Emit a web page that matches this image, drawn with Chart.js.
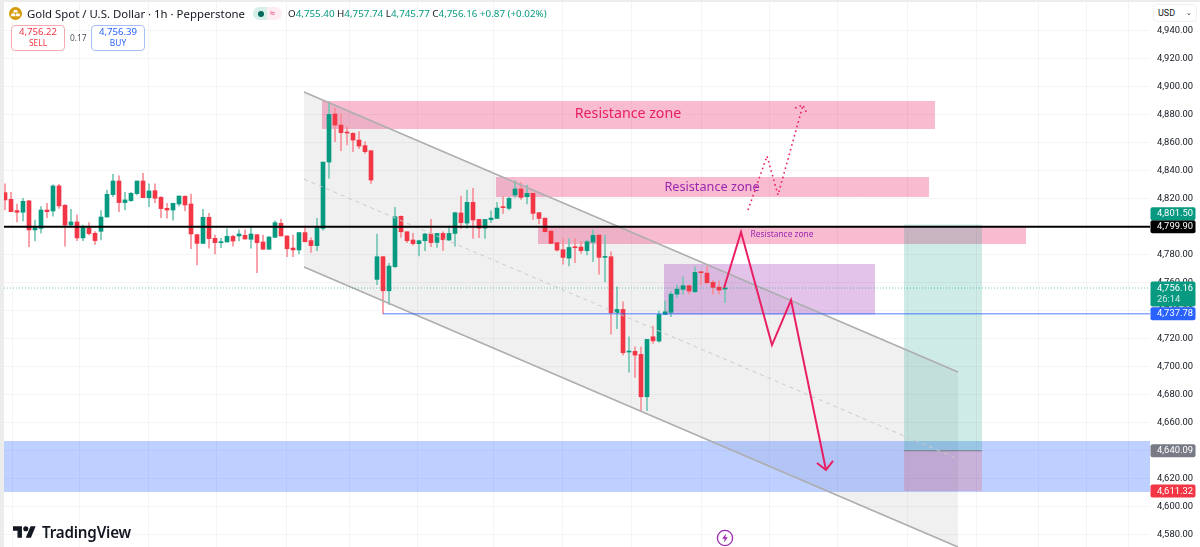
<!DOCTYPE html>
<html>
<head>
<meta charset="utf-8">
<title>Gold Spot / U.S. Dollar</title>
<script src="https://cdn.jsdelivr.net/npm/chart.js@4"></script>
<style>
    html, body { margin: 0; padding: 0; background: #fff; overflow: hidden; }
    body { width: 1200px; height: 547px; position: relative; font-family: "Noto Sans", sans-serif; color: #131722; }
    canvas { position: absolute; left: 0; top: 0; }
    .abs { position: absolute; white-space: nowrap; }
    .edge-left { left: 0; top: 0; width: 4px; height: 547px; background: #ececec; }
    .edge-top { left: 0; top: 0; width: 1200px; height: 2px; background: #ececec; }
    .title { left: 27px; top: 5px; font-size: 11.4px; line-height: 18px; }
    .ohlc { left: 288px; top: 6px; font-size: 9.8px; line-height: 16px; }
    .ohlc b { font-weight: 400; color: #089981; }
    .pill { left: 253px; top: 7px; width: 29px; height: 13px; border-radius: 7px; background: linear-gradient(90deg, #d7efe9 0 50%, #fdecf1 50% 100%); }
    .pill i { position: absolute; left: 5px; top: 3.5px; width: 6px; height: 6px; border-radius: 50%; background: #00695c; }
    .pill u { position: absolute; left: 17px; top: 0; font-size: 9px; line-height: 12px; color: #e91e63; text-decoration: none; }
    .trade { top: 25px; width: 52px; height: 24px; border: 1px solid; border-radius: 4px; text-align: center; font-size: 9.6px; line-height: 12px; background: #fff; }
    .trade span { display: block; font-size: 8.4px; line-height: 10px; }
    .sell { left: 11px; color: #f23645; border-color: #f7a9b0; }
    .buy { left: 91px; color: #2962ff; border-color: #a9bffb; }
    .spread { left: 70px; top: 32px; font-size: 8.4px; line-height: 12px; color: #50535e; }
    .usd { left: 1153px; top: 4px; width: 44px; height: 18px; box-sizing: border-box; padding-left: 4px; border: 1px solid #f0f0f1; border-radius: 4px; font: 9px/16px Roboto, sans-serif; background: #fff; }
    .usd span { position: absolute; right: 4px; top: 0; font-size: 7px; }
    .brand { left: 42px; top: 521px; font-size: 15.2px; line-height: 22px; font-weight: 600; letter-spacing: -0.2px; }
</style>
</head>
<body>
<canvas id="goldChart" width="1200" height="547"></canvas>
<div class="abs edge-left"></div>
<div class="abs edge-top"></div>
<svg class="abs" style="left:9px;top:7px" width="13" height="13" viewBox="0 0 13 13">
    <circle cx="6.5" cy="6.5" r="6.5" fill="#d79a0a"/>
    <path d="M5 3h3l1 2.6H4zM2.4 6.6h3.6l.4 2.6H2zM7 6.6h3.6l.4 2.6H6.6z" fill="#fff"/>
</svg>
<div class="abs title">Gold Spot / U.S. Dollar · 1h · Pepperstone</div>
<div class="abs pill"><i></i><u>≈</u></div>
<div class="abs ohlc">O<b>4,755.40</b> H<b>4,757.74</b> L<b>4,745.77</b> C<b>4,756.16</b> <b>+0.87 (+0.02%)</b></div>
<div class="abs trade sell">4,756.22<span>SELL</span></div>
<div class="abs spread">0.17</div>
<div class="abs trade buy">4,756.39<span>BUY</span></div>
<div class="abs usd">USD<span>⌄</span></div>
<svg class="abs" style="left:13px;top:525px" width="23" height="14" viewBox="0 4 36 18">
    <path d="M14 22H7V11H0V4h14v18zM28 22h-8l7.5-18h8L28 22z" fill="#131722"/>
    <circle cx="20" cy="8" r="4" fill="#131722"/>
</svg>
<div class="abs brand">TradingView</div>
<svg class="abs" style="left:716px;top:529px" width="18" height="18" viewBox="0 0 18 18">
    <circle cx="9" cy="9" r="7.6" fill="#fff" stroke="#9c27b0" stroke-width="1.3"/>
    <path d="M10 4.5 6.2 9.8h2.5L8 13.5l3.8-5.3H9.3z" fill="#9c27b0"/>
</svg>
<script>
// Candles, oldest first
const opens = [
    4824.2, 4819.4, 4811.4, 4810.2, 4818.3, 4797.6, 4798.7, 4811.8, 4811.1, 4829.0,
    4815.2, 4801.1, 4803.3, 4791.9, 4799.0, 4795.2, 4796.6, 4806.8, 4822.8, 4832.5,
    4817.1, 4818.5, 4823.5, 4832.5, 4820.6, 4825.6, 4820.9, 4813.0, 4811.8, 4816.1,
    4821.6, 4816.1, 4794.2, 4788.0, 4806.6, 4791.6, 4788.5, 4789.0, 4793.0, 4793.3,
    4793.8, 4790.9, 4794.2, 4789.0, 4783.8, 4792.3, 4802.3, 4793.3, 4784.7, 4783.3,
    4795.7, 4790.0, 4786.4, 4798.7, 4846.0, 4880.3, 4872.4, 4867.2, 4866.5, 4861.7,
    4857.7, 4854.1, 4762.3, 4778.5, 4754.2, 4771.4, 4807.3, 4796.3, 4790.4, 4787.8,
    4789.9, 4794.7, 4788.7, 4795.1, 4790.4, 4795.1, 4809.7, 4802.5, 4817.3, 4805.1,
    4798.9, 4804.9, 4805.8, 4814.2, 4813.0, 4822.5, 4826.8, 4821.3, 4823.7, 4809.9,
    4806.0, 4796.8, 4788.5, 4783.5, 4777.5, 4785.6, 4785.4, 4782.8, 4788.9, 4793.9,
    4778.0, 4778.5, 4738.5, 4740.9, 4710.5, 4711.0, 4708.8, 4678.6, 4721.4, 4718.3,
    4737.3, 4738.8, 4751.8, 4755.2, 4757.8, 4753.5, 4767.3, 4766.8, 4760.2, 4756.8,
    4755.40
];
const highs = [
    4830.4, 4824.4, 4816.1, 4820.2, 4818.7, 4804.7, 4814.2, 4816.6, 4829.7, 4830.1,
    4815.6, 4812.3, 4808.3, 4801.1, 4802.8, 4796.4, 4811.4, 4826.1, 4837.3, 4836.1,
    4824.4, 4824.4, 4832.5, 4838.0, 4830.4, 4830.4, 4821.3, 4816.6, 4816.6, 4821.8,
    4822.0, 4823.2, 4794.7, 4812.3, 4809.5, 4794.0, 4791.6, 4798.3, 4794.0, 4797.6,
    4797.6, 4800.4, 4794.2, 4794.0, 4792.6, 4804.0, 4805.4, 4793.3, 4794.0, 4795.7,
    4800.4, 4791.9, 4805.9, 4846.0, 4889.0, 4884.3, 4880.3, 4871.2, 4867.0, 4867.7,
    4860.5, 4854.1, 4794.7, 4778.5, 4773.7, 4813.7, 4807.7, 4796.3, 4795.1, 4790.4,
    4795.1, 4805.1, 4795.1, 4796.3, 4800.4, 4809.9, 4821.8, 4826.1, 4827.2, 4805.1,
    4805.1, 4811.3, 4817.3, 4821.3, 4820.8, 4832.7, 4831.3, 4829.6, 4823.7, 4809.9,
    4806.0, 4796.8, 4788.5, 4791.5, 4791.5, 4791.5, 4789.2, 4790.4, 4797.5, 4793.9,
    4793.9, 4782.0, 4757.1, 4746.4, 4721.4, 4714.3, 4714.3, 4719.5, 4729.0, 4739.7,
    4746.8, 4753.5, 4758.3, 4764.2, 4758.3, 4771.3, 4767.3, 4771.8, 4761.8, 4761.3,
    4757.74
];
const lows = [
    4811.8, 4810.6, 4803.3, 4804.0, 4785.7, 4789.7, 4795.2, 4806.4, 4807.5, 4813.0,
    4786.1, 4799.9, 4790.0, 4790.0, 4794.0, 4787.3, 4790.4, 4806.8, 4821.3, 4810.6,
    4811.8, 4818.0, 4822.5, 4820.6, 4814.2, 4817.1, 4806.4, 4805.9, 4804.5, 4814.7,
    4811.1, 4784.2, 4772.6, 4788.0, 4784.5, 4780.4, 4785.0, 4789.0, 4786.1, 4789.7,
    4791.1, 4784.5, 4767.1, 4783.8, 4783.8, 4792.3, 4793.3, 4778.5, 4778.5, 4780.4,
    4789.0, 4781.6, 4782.8, 4797.5, 4834.4, 4860.5, 4854.1, 4858.2, 4853.4, 4855.5,
    4852.2, 4830.8, 4758.5, 4737.8, 4744.5, 4770.7, 4792.3, 4788.5, 4786.8, 4779.0,
    4782.8, 4785.6, 4785.2, 4782.8, 4789.9, 4786.1, 4798.7, 4798.7, 4791.6, 4792.1,
    4791.6, 4802.8, 4805.8, 4809.4, 4811.8, 4820.8, 4819.4, 4816.1, 4805.1, 4801.8,
    4796.3, 4788.0, 4782.5, 4773.2, 4772.0, 4774.2, 4780.9, 4779.7, 4774.9, 4766.1,
    4760.6, 4723.3, 4727.1, 4708.3, 4696.2, 4692.4, 4668.6, 4668.6, 4716.6, 4717.6,
    4737.3, 4735.7, 4749.5, 4751.8, 4751.8, 4753.0, 4758.3, 4759.4, 4751.6, 4751.8,
    4745.77
];
const closes = [
    4819.0, 4810.6, 4810.2, 4818.0, 4797.6, 4799.2, 4811.8, 4810.6, 4829.0, 4814.7,
    4801.1, 4803.3, 4791.9, 4799.2, 4795.0, 4790.0, 4806.8, 4823.0, 4832.5, 4817.1,
    4819.0, 4823.7, 4832.5, 4820.6, 4825.4, 4820.2, 4812.8, 4811.8, 4816.6, 4821.8,
    4815.4, 4794.7, 4788.0, 4806.6, 4791.4, 4788.5, 4789.2, 4793.0, 4789.7, 4794.7,
    4791.1, 4794.7, 4788.5, 4783.8, 4792.6, 4802.8, 4793.3, 4784.2, 4783.3, 4795.7,
    4789.2, 4786.4, 4799.2, 4846.0, 4880.0, 4872.4, 4867.0, 4866.7, 4861.7, 4857.4,
    4853.4, 4833.2, 4778.5, 4754.2, 4771.8, 4807.0, 4796.3, 4789.9, 4787.8, 4789.9,
    4794.7, 4788.5, 4795.1, 4790.6, 4795.1, 4809.9, 4802.8, 4817.3, 4804.7, 4798.9,
    4805.1, 4806.1, 4813.2, 4813.5, 4820.1, 4826.8, 4820.8, 4823.7, 4809.4, 4805.8,
    4796.3, 4788.0, 4783.2, 4778.0, 4785.1, 4784.9, 4782.8, 4789.2, 4793.7, 4778.0,
    4778.7, 4738.5, 4740.9, 4710.0, 4711.2, 4708.3, 4678.6, 4719.5, 4718.5, 4737.3,
    4739.2, 4751.8, 4755.4, 4757.8, 4754.0, 4767.3, 4767.1, 4759.9, 4756.6, 4754.7,
    4756.16
];

// Axis
const priceTicks = [4940, 4920, 4900, 4880, 4860, 4840, 4820, 4800, 4780, 4760, 4740, 4720, 4700, 4680, 4660, 4640, 4620, 4600, 4580];
const timeGridBars = [6.83, 18, 29.83, 40.83, 53, 61.83, 75.67, 87, 98.83, 110, 122, 132.83, 144.83, 156, 167.83, 176.83, 183.83];
const barMin = -0.167, barMax = 190.83;
const priceMin = 4571.44, priceMax = 4961.6;

// Drawings, as [bar, price] pairs
const channelTop = [[49.83, 4896], [158.83, 4696.3]];
const channelMid = [[49.83, 4833.9], [158.83, 4634.2]];
const channelLow = [[49.83, 4771.2], [158.83, 4571.4]];
const resistanceZoneA = [[52.83, 4889.6], [155, 4869.6]];
const resistanceZoneB = [[81.83, 4835.3], [154, 4821.1]];
const resistanceZoneC = [[88.83, 4799.7], [170.17, 4787.6]];
const purpleZone = [[109.83, 4773.3], [145, 4737.3]];
const blueZone = [[barMin, 4647], [barMax, 4610.7]];
const positionBars = [149.83, 162.83];
const targetPrice = 4801.50, entryPrice = 4640.09, stopPrice = 4611.32;
const blackLinePrice = 4799.90, lastPrice = 4756.16, lowLinePrice = 4737.78, lowLineBar = 63;
const solidPath = [[119.83, 4756.2], [122.67, 4796.1], [127.83, 4715.5], [131, 4747.6], [136.83, 4626.4]];
const solidHead = [[135.33, 4631.4], [136.83, 4626.4], [138, 4632.8]];
const dottedPath = [[123.83, 4811.8], [127, 4850.3], [128.83, 4822.5], [133, 4886.7]];
const dottedHead = [[131.67, 4884.6], [133, 4886.7], [133.67, 4880.3]];

// Text on the chart
const zoneLabels = [
    { text: 'Resistance zone', bar: 103.83, price: 4880.3, size: 14.2, color: '#e91e63' },
    { text: 'Resistance zone', bar: 117.83, price: 4828.2, size: 12.7, color: '#9c27b0' },
    { text: 'Resistance zone', bar: 129.5, price: 4794, size: 8.4, color: '#9c27b0' }
];
const priceTags = [
    { price: 4801.50, color: '#089981' },
    { price: 4799.90, color: '#000000' },
    { price: 4756.16, color: '#089981', sub: '26:14' },
    { price: 4737.78, color: '#2962ff' },
    { price: 4640.09, color: '#787b86' },
    { price: 4611.32, color: '#f23645' }
];

const upColor = '#089981', downColor = '#f23645';
const upWick = '#74c6b5', downWick = '#f88f99';
const isUp = closes.map((c, i) => c >= opens[i]);
const fontName = '"Noto Sans", sans-serif';
const axisFont = 'Roboto, sans-serif';

const toPoints = pairs => pairs.map(([x, y]) => ({ x, y }));

// Closed rectangle from its two corners, filled as a shape
function box(corners, color, order) {
    const [[x1, y1], [x2, y2]] = corners;
    return {
        type: 'line',
        data: toPoints([[x1, y1], [x2, y1], [x2, y2], [x1, y2], [x1, y1]]),
        borderWidth: 0,
        backgroundColor: color,
        fill: 'shape',
        pointRadius: 0,
        order
    };
}

function line(pairs, color, width, order, dash) {
    return {
        type: 'line',
        data: toPoints(pairs),
        borderColor: color,
        borderWidth: width,
        borderDash: dash || [],
        fill: false,
        pointRadius: 0,
        tension: 0,
        order
    };
}

const formatPrice = v => v.toLocaleString('en-US', { minimumFractionDigits: 2, maximumFractionDigits: 2 });

// Labels would otherwise make the layout pull the plot area in from the canvas edges
const noPadding = scale => {
    scale.paddingTop = 0;
    scale.paddingBottom = 0;
    scale.paddingLeft = 0;
    scale.paddingRight = 0;
};

// Zone captions and the price tags on the right axis
const overlayPlugin = {
    id: 'overlay',
    afterDraw(chart) {
        const { ctx, scales: { x, y }, chartArea } = chart;
        ctx.save();
        ctx.textBaseline = 'middle';
        ctx.textAlign = 'center';
        zoneLabels.forEach(l => {
            ctx.font = l.size + 'px ' + fontName;
            ctx.fillStyle = l.color;
            ctx.fillText(l.text, x.getPixelForValue(l.bar), y.getPixelForValue(l.price));
        });

        // Walk up from the bottom so a tag that would overlap moves above its neighbour
        ctx.textAlign = 'left';
        ctx.font = '9.4px ' + axisFont;
        let limit = Infinity;
        for (let i = priceTags.length - 1; i >= 0; i--) {
            const tag = priceTags[i];
            const height = tag.sub ? 25 : 13;
            let top = y.getPixelForValue(tag.price) - 6.5;
            if (top + height > limit) top = limit - height;
            limit = top;
            const left = chartArea.right + 0.5;
            ctx.fillStyle = tag.color;
            ctx.beginPath();
            ctx.roundRect(left, top, 45, height, 2);
            ctx.fill();
            ctx.fillStyle = '#ffffff';
            ctx.fillText(formatPrice(tag.price), left + 6.5, top + 6.8);
            if (tag.sub) {
                ctx.globalAlpha = 0.8;
                ctx.fillText(tag.sub, left + 6.5, top + 18.5);
                ctx.globalAlpha = 1;
            }
        }
        ctx.restore();
    }
};

const ctx = document.getElementById('goldChart').getContext('2d');

new Chart(ctx, {
    type: 'bar',
    data: {
        datasets: [
            // Lower order is drawn later, so it sits on top
            {
                type: 'line',
                data: toPoints([channelTop[0], channelTop[1], channelLow[1], channelLow[0], channelTop[0]]),
                borderWidth: 0,
                backgroundColor: 'rgba(120,123,134,0.115)',
                fill: 'shape',
                pointRadius: 0,
                order: 70
            },
            box(resistanceZoneA, 'rgba(233,30,99,0.3)', 50),
            box(resistanceZoneB, 'rgba(233,30,99,0.3)', 50),
            box(resistanceZoneC, 'rgba(233,30,99,0.3)', 50),
            box(purpleZone, 'rgba(156,39,176,0.28)', 50),
            box(blueZone, 'rgba(41,98,255,0.3)', 50),
            box([[positionBars[0], targetPrice], [positionBars[1], entryPrice]], 'rgba(8,153,129,0.2)', 45),
            box([[positionBars[0], entryPrice], [positionBars[1], stopPrice]], 'rgba(242,54,69,0.2)', 45),
            line([[positionBars[0], entryPrice], [positionBars[1], entryPrice]], '#787b86', 1, 44),
            {
                type: 'bar',
                data: opens.map((_, i) => ({ x: i, y: [lows[i], highs[i]] })),
                backgroundColor: isUp.map(up => up ? upWick : downWick),
                barThickness: 1,
                grouped: false,
                order: 43
            },
            {
                type: 'bar',
                data: opens.map((o, i) => ({ x: i, y: [o, closes[i]] })),
                backgroundColor: isUp.map(up => up ? upColor : downColor),
                barThickness: 4,
                minBarLength: 1,
                grouped: false,
                order: 42
            },
            line(channelTop, '#aeaeb0', 1.6, 40),
            line(channelLow, '#aeaeb0', 1.6, 40),
            line(channelMid, '#c9cacd', 1, 40, [4, 4]),
            line([[barMin, lastPrice], [barMax, lastPrice]], 'rgba(8,153,129,0.55)', 1, 30, [1, 2]),
            line([[lowLineBar, lowLinePrice], [barMax, lowLinePrice]], 'rgba(41,98,255,0.55)', 1.4, 30),
            line([[barMin, blackLinePrice], [barMax, blackLinePrice]], '#000000', 2, 20),
            line(solidPath, '#e91e63', 2, 10),
            line(solidHead, '#e91e63', 2, 10),
            line(dottedPath, '#e91e63', 1.6, 10, [1.6, 3.2]),
            line(dottedHead, '#e91e63', 1.6, 10, [1.6, 3.2])
        ]
    },
    options: {
        responsive: false,
        animation: false,
        layout: { padding: { left: 4 }, autoPadding: false },
        plugins: {
            legend: { display: false },
            tooltip: { enabled: false },
            title: { display: false }
        },
        scales: {
            x: {
                type: 'linear',
                offset: false,
                min: barMin,
                max: barMax,
                afterBuildTicks: scale => { scale.ticks = timeGridBars.map(value => ({ value })); },
                afterFit: scale => { scale.height = 0; noPadding(scale); },
                ticks: { display: false },
                border: { display: false },
                grid: { color: '#f4f4f5', lineWidth: 1, drawTicks: false }
            },
            y: {
                type: 'linear',
                position: 'right',
                min: priceMin,
                max: priceMax,
                afterBuildTicks: scale => { scale.ticks = priceTicks.map(value => ({ value })); },
                afterFit: scale => { scale.width = 50; noPadding(scale); },
                ticks: {
                    callback: value => formatPrice(value),
                    color: '#131722',
                    font: { family: axisFont, size: 9.4 },
                    padding: 7
                },
                border: { display: false },
                grid: { color: '#f4f4f5', lineWidth: 1, drawTicks: false }
            }
        }
    },
    plugins: [overlayPlugin]
});
</script>
</body>
</html>
